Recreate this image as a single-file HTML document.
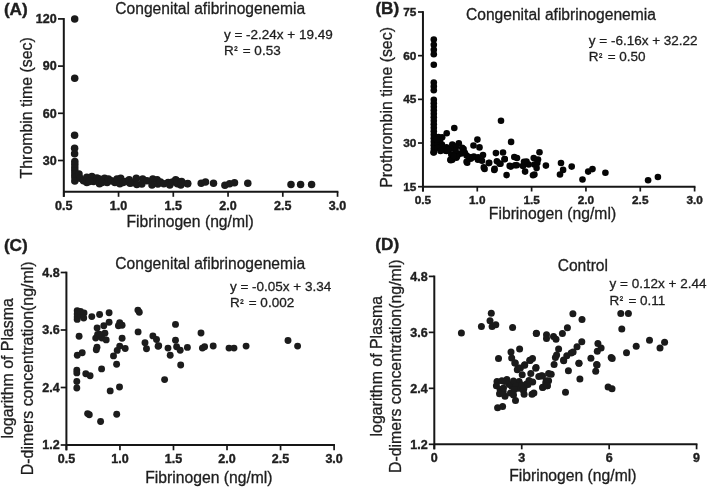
<!DOCTYPE html>
<html><head><meta charset="utf-8"><style>
html,body{margin:0;padding:0;background:#fff;}
body{width:709px;height:488px;overflow:hidden;}
svg{display:block;font-family:"Liberation Sans", sans-serif;filter:grayscale(1) blur(0.3px);}
</style></head><body>
<svg width="709" height="488" viewBox="0 0 709 488">
<rect width="709" height="488" fill="#fff"/>
<line x1="63.80" y1="18.05" x2="63.80" y2="196.80" stroke="#161616" stroke-width="2.0"/>
<line x1="63.80" y1="191.80" x2="338.40" y2="191.80" stroke="#161616" stroke-width="2.0"/>
<line x1="58.00" y1="18.90" x2="63.80" y2="18.90" stroke="#161616" stroke-width="1.7"/>
<text x="56.70" y="23.21" font-size="12.5" font-weight="bold" text-anchor="end" fill="#1e1e1e" stroke="#1e1e1e" stroke-width="0.4">120</text>
<line x1="58.00" y1="66.10" x2="63.80" y2="66.10" stroke="#161616" stroke-width="1.7"/>
<text x="56.70" y="70.41" font-size="12.5" font-weight="bold" text-anchor="end" fill="#1e1e1e" stroke="#1e1e1e" stroke-width="0.4">90</text>
<line x1="58.00" y1="113.30" x2="63.80" y2="113.30" stroke="#161616" stroke-width="1.7"/>
<text x="56.70" y="117.61" font-size="12.5" font-weight="bold" text-anchor="end" fill="#1e1e1e" stroke="#1e1e1e" stroke-width="0.4">60</text>
<line x1="58.00" y1="160.50" x2="63.80" y2="160.50" stroke="#161616" stroke-width="1.7"/>
<text x="56.70" y="164.81" font-size="12.5" font-weight="bold" text-anchor="end" fill="#1e1e1e" stroke="#1e1e1e" stroke-width="0.4">30</text>
<line x1="63.80" y1="191.80" x2="63.80" y2="196.80" stroke="#161616" stroke-width="1.7"/>
<text x="63.80" y="209.60" font-size="12.5" font-weight="bold" text-anchor="middle" fill="#1e1e1e" stroke="#1e1e1e" stroke-width="0.4">0.5</text>
<line x1="118.55" y1="191.80" x2="118.55" y2="196.80" stroke="#161616" stroke-width="1.7"/>
<text x="118.55" y="209.60" font-size="12.5" font-weight="bold" text-anchor="middle" fill="#1e1e1e" stroke="#1e1e1e" stroke-width="0.4">1.0</text>
<line x1="173.30" y1="191.80" x2="173.30" y2="196.80" stroke="#161616" stroke-width="1.7"/>
<text x="173.30" y="209.60" font-size="12.5" font-weight="bold" text-anchor="middle" fill="#1e1e1e" stroke="#1e1e1e" stroke-width="0.4">1.5</text>
<line x1="228.05" y1="191.80" x2="228.05" y2="196.80" stroke="#161616" stroke-width="1.7"/>
<text x="228.05" y="209.60" font-size="12.5" font-weight="bold" text-anchor="middle" fill="#1e1e1e" stroke="#1e1e1e" stroke-width="0.4">2.0</text>
<line x1="282.80" y1="191.80" x2="282.80" y2="196.80" stroke="#161616" stroke-width="1.7"/>
<text x="282.80" y="209.60" font-size="12.5" font-weight="bold" text-anchor="middle" fill="#1e1e1e" stroke="#1e1e1e" stroke-width="0.4">2.5</text>
<line x1="337.55" y1="191.80" x2="337.55" y2="196.80" stroke="#161616" stroke-width="1.7"/>
<text x="337.55" y="209.60" font-size="12.5" font-weight="bold" text-anchor="middle" fill="#1e1e1e" stroke="#1e1e1e" stroke-width="0.4">3.0</text>
<text x="3.90" y="14.50" font-size="17.2" font-weight="bold" text-anchor="start" fill="#1e1e1e" stroke="#1e1e1e" stroke-width="0.4">(A)</text>
<text x="115.30" y="13.70" font-size="15.6" text-anchor="start" fill="#1e1e1e" stroke="#1e1e1e" stroke-width="0.3">Congenital afibrinogenemia</text>
<text x="223.90" y="38.50" font-size="13.5" text-anchor="start" fill="#1e1e1e" stroke="#1e1e1e" stroke-width="0.3">y = -2.24x + 19.49</text>
<text x="223.90" y="54.60" font-size="13.5" text-anchor="start" fill="#1e1e1e" stroke="#1e1e1e" stroke-width="0.3">R<tspan font-size="10" dx="0.5" dy="-1.4">²</tspan><tspan dx="1.5" dy="1.4"> = 0.53</tspan></text>
<text x="190.10" y="227.10" font-size="15.7" text-anchor="middle" fill="#1e1e1e" stroke="#1e1e1e" stroke-width="0.3">Fibrinogen (ng/ml)</text>
<text x="32.50" y="107.80" font-size="15.9" text-anchor="middle" transform="rotate(-90 32.5 107.8)" fill="#1e1e1e" stroke="#1e1e1e" stroke-width="0.3">Thrombin time (sec)</text>
<line x1="422.95" y1="11.15" x2="422.95" y2="191.50" stroke="#161616" stroke-width="2.0"/>
<line x1="422.95" y1="186.70" x2="695.45" y2="186.70" stroke="#161616" stroke-width="2.0"/>
<line x1="418.00" y1="12.00" x2="422.95" y2="12.00" stroke="#161616" stroke-width="1.7"/>
<text x="416.40" y="16.07" font-size="11.8" font-weight="bold" text-anchor="end" fill="#1e1e1e" stroke="#1e1e1e" stroke-width="0.4">75</text>
<line x1="418.00" y1="55.67" x2="422.95" y2="55.67" stroke="#161616" stroke-width="1.7"/>
<text x="416.40" y="59.75" font-size="11.8" font-weight="bold" text-anchor="end" fill="#1e1e1e" stroke="#1e1e1e" stroke-width="0.4">60</text>
<line x1="418.00" y1="99.35" x2="422.95" y2="99.35" stroke="#161616" stroke-width="1.7"/>
<text x="416.40" y="103.42" font-size="11.8" font-weight="bold" text-anchor="end" fill="#1e1e1e" stroke="#1e1e1e" stroke-width="0.4">45</text>
<line x1="418.00" y1="143.02" x2="422.95" y2="143.02" stroke="#161616" stroke-width="1.7"/>
<text x="416.40" y="147.10" font-size="11.8" font-weight="bold" text-anchor="end" fill="#1e1e1e" stroke="#1e1e1e" stroke-width="0.4">30</text>
<line x1="418.00" y1="186.70" x2="422.95" y2="186.70" stroke="#161616" stroke-width="1.7"/>
<text x="416.40" y="190.77" font-size="11.8" font-weight="bold" text-anchor="end" fill="#1e1e1e" stroke="#1e1e1e" stroke-width="0.4">15</text>
<line x1="422.95" y1="186.70" x2="422.95" y2="191.50" stroke="#161616" stroke-width="1.7"/>
<text x="422.95" y="203.50" font-size="11.8" font-weight="bold" text-anchor="middle" fill="#1e1e1e" stroke="#1e1e1e" stroke-width="0.4">0.5</text>
<line x1="477.28" y1="186.70" x2="477.28" y2="191.50" stroke="#161616" stroke-width="1.7"/>
<text x="477.28" y="203.50" font-size="11.8" font-weight="bold" text-anchor="middle" fill="#1e1e1e" stroke="#1e1e1e" stroke-width="0.4">1.0</text>
<line x1="531.61" y1="186.70" x2="531.61" y2="191.50" stroke="#161616" stroke-width="1.7"/>
<text x="531.61" y="203.50" font-size="11.8" font-weight="bold" text-anchor="middle" fill="#1e1e1e" stroke="#1e1e1e" stroke-width="0.4">1.5</text>
<line x1="585.94" y1="186.70" x2="585.94" y2="191.50" stroke="#161616" stroke-width="1.7"/>
<text x="585.94" y="203.50" font-size="11.8" font-weight="bold" text-anchor="middle" fill="#1e1e1e" stroke="#1e1e1e" stroke-width="0.4">2.0</text>
<line x1="640.27" y1="186.70" x2="640.27" y2="191.50" stroke="#161616" stroke-width="1.7"/>
<text x="640.27" y="203.50" font-size="11.8" font-weight="bold" text-anchor="middle" fill="#1e1e1e" stroke="#1e1e1e" stroke-width="0.4">2.5</text>
<line x1="694.60" y1="186.70" x2="694.60" y2="191.50" stroke="#161616" stroke-width="1.7"/>
<text x="694.60" y="203.50" font-size="11.8" font-weight="bold" text-anchor="middle" fill="#1e1e1e" stroke="#1e1e1e" stroke-width="0.4">3.0</text>
<text x="375.40" y="14.20" font-size="17.2" font-weight="bold" text-anchor="start" fill="#1e1e1e" stroke="#1e1e1e" stroke-width="0.4">(B)</text>
<text x="466.00" y="19.60" font-size="15.6" text-anchor="start" fill="#1e1e1e" stroke="#1e1e1e" stroke-width="0.3">Congenital afibrinogenemia</text>
<text x="588.80" y="45.20" font-size="13.5" text-anchor="start" fill="#1e1e1e" stroke="#1e1e1e" stroke-width="0.3">y = -6.16x + 32.22</text>
<text x="588.80" y="60.90" font-size="13.5" text-anchor="start" fill="#1e1e1e" stroke="#1e1e1e" stroke-width="0.3">R<tspan font-size="10" dx="0.5" dy="-1.4">²</tspan><tspan dx="1.5" dy="1.4"> = 0.50</tspan></text>
<text x="552.50" y="219.40" font-size="15.7" text-anchor="middle" fill="#1e1e1e" stroke="#1e1e1e" stroke-width="0.3">Fibrinogen (ng/ml)</text>
<text x="391.70" y="107.40" font-size="15.9" text-anchor="middle" transform="rotate(-90 391.7 107.4)" fill="#1e1e1e" stroke="#1e1e1e" stroke-width="0.3">Prothrombin time (sec)</text>
<line x1="66.40" y1="271.65" x2="66.40" y2="450.30" stroke="#161616" stroke-width="2.0"/>
<line x1="66.40" y1="445.00" x2="334.95" y2="445.00" stroke="#161616" stroke-width="2.0"/>
<line x1="60.70" y1="272.50" x2="66.40" y2="272.50" stroke="#161616" stroke-width="1.7"/>
<text x="59.60" y="276.81" font-size="12.5" font-weight="bold" text-anchor="end" fill="#1e1e1e" stroke="#1e1e1e" stroke-width="0.4">4.8</text>
<line x1="60.70" y1="330.00" x2="66.40" y2="330.00" stroke="#161616" stroke-width="1.7"/>
<text x="59.60" y="334.31" font-size="12.5" font-weight="bold" text-anchor="end" fill="#1e1e1e" stroke="#1e1e1e" stroke-width="0.4">3.6</text>
<line x1="60.70" y1="387.50" x2="66.40" y2="387.50" stroke="#161616" stroke-width="1.7"/>
<text x="59.60" y="391.81" font-size="12.5" font-weight="bold" text-anchor="end" fill="#1e1e1e" stroke="#1e1e1e" stroke-width="0.4">2.4</text>
<line x1="60.70" y1="445.00" x2="66.40" y2="445.00" stroke="#161616" stroke-width="1.7"/>
<text x="59.60" y="449.31" font-size="12.5" font-weight="bold" text-anchor="end" fill="#1e1e1e" stroke="#1e1e1e" stroke-width="0.4">1.2</text>
<line x1="66.40" y1="445.00" x2="66.40" y2="450.30" stroke="#161616" stroke-width="1.7"/>
<text x="66.40" y="463.30" font-size="12.5" font-weight="bold" text-anchor="middle" fill="#1e1e1e" stroke="#1e1e1e" stroke-width="0.4">0.5</text>
<line x1="119.94" y1="445.00" x2="119.94" y2="450.30" stroke="#161616" stroke-width="1.7"/>
<text x="119.94" y="463.30" font-size="12.5" font-weight="bold" text-anchor="middle" fill="#1e1e1e" stroke="#1e1e1e" stroke-width="0.4">1.0</text>
<line x1="173.48" y1="445.00" x2="173.48" y2="450.30" stroke="#161616" stroke-width="1.7"/>
<text x="173.48" y="463.30" font-size="12.5" font-weight="bold" text-anchor="middle" fill="#1e1e1e" stroke="#1e1e1e" stroke-width="0.4">1.5</text>
<line x1="227.02" y1="445.00" x2="227.02" y2="450.30" stroke="#161616" stroke-width="1.7"/>
<text x="227.02" y="463.30" font-size="12.5" font-weight="bold" text-anchor="middle" fill="#1e1e1e" stroke="#1e1e1e" stroke-width="0.4">2.0</text>
<line x1="280.56" y1="445.00" x2="280.56" y2="450.30" stroke="#161616" stroke-width="1.7"/>
<text x="280.56" y="463.30" font-size="12.5" font-weight="bold" text-anchor="middle" fill="#1e1e1e" stroke="#1e1e1e" stroke-width="0.4">2.5</text>
<line x1="334.10" y1="445.00" x2="334.10" y2="450.30" stroke="#161616" stroke-width="1.7"/>
<text x="334.10" y="463.30" font-size="12.5" font-weight="bold" text-anchor="middle" fill="#1e1e1e" stroke="#1e1e1e" stroke-width="0.4">3.0</text>
<text x="3.90" y="250.50" font-size="17.2" font-weight="bold" text-anchor="start" fill="#1e1e1e" stroke="#1e1e1e" stroke-width="0.4">(C)</text>
<text x="115.30" y="269.30" font-size="15.6" text-anchor="start" fill="#1e1e1e" stroke="#1e1e1e" stroke-width="0.3">Congenital afibrinogenemia</text>
<text x="229.90" y="290.90" font-size="13.5" text-anchor="start" fill="#1e1e1e" stroke="#1e1e1e" stroke-width="0.3">y = -0.05x + 3.34</text>
<text x="229.90" y="307.10" font-size="13.5" text-anchor="start" fill="#1e1e1e" stroke="#1e1e1e" stroke-width="0.3">R<tspan font-size="10" dx="0.5" dy="-1.4">²</tspan><tspan dx="1.5" dy="1.4"> = 0.002</tspan></text>
<text x="208.90" y="482.80" font-size="15.7" text-anchor="middle" fill="#1e1e1e" stroke="#1e1e1e" stroke-width="0.3">Fibrinogen (ng/ml)</text>
<text x="13.00" y="368.35" font-size="15.9" text-anchor="middle" transform="rotate(-90 13.0 368.35)" fill="#1e1e1e" stroke="#1e1e1e" stroke-width="0.3">logarithm of Plasma</text>
<text x="32.70" y="368.35" font-size="15.9" text-anchor="middle" transform="rotate(-90 32.7 368.35)" fill="#1e1e1e" stroke="#1e1e1e" stroke-width="0.3">D-dimers concentration(ng/ml)</text>
<line x1="434.30" y1="275.55" x2="434.30" y2="449.30" stroke="#161616" stroke-width="2.0"/>
<line x1="434.30" y1="444.30" x2="697.44" y2="444.30" stroke="#161616" stroke-width="2.0"/>
<line x1="428.80" y1="276.40" x2="434.30" y2="276.40" stroke="#161616" stroke-width="1.7"/>
<text x="427.60" y="280.71" font-size="12.5" font-weight="bold" text-anchor="end" fill="#1e1e1e" stroke="#1e1e1e" stroke-width="0.4">4.8</text>
<line x1="428.80" y1="332.37" x2="434.30" y2="332.37" stroke="#161616" stroke-width="1.7"/>
<text x="427.60" y="336.68" font-size="12.5" font-weight="bold" text-anchor="end" fill="#1e1e1e" stroke="#1e1e1e" stroke-width="0.4">3.6</text>
<line x1="428.80" y1="388.34" x2="434.30" y2="388.34" stroke="#161616" stroke-width="1.7"/>
<text x="427.60" y="392.65" font-size="12.5" font-weight="bold" text-anchor="end" fill="#1e1e1e" stroke="#1e1e1e" stroke-width="0.4">2.4</text>
<line x1="428.80" y1="444.31" x2="434.30" y2="444.31" stroke="#161616" stroke-width="1.7"/>
<text x="427.60" y="448.62" font-size="12.5" font-weight="bold" text-anchor="end" fill="#1e1e1e" stroke="#1e1e1e" stroke-width="0.4">1.2</text>
<line x1="434.30" y1="444.30" x2="434.30" y2="449.30" stroke="#161616" stroke-width="1.7"/>
<text x="434.30" y="462.00" font-size="12.5" font-weight="bold" text-anchor="middle" fill="#1e1e1e" stroke="#1e1e1e" stroke-width="0.4">0</text>
<line x1="521.73" y1="444.30" x2="521.73" y2="449.30" stroke="#161616" stroke-width="1.7"/>
<text x="521.73" y="462.00" font-size="12.5" font-weight="bold" text-anchor="middle" fill="#1e1e1e" stroke="#1e1e1e" stroke-width="0.4">3</text>
<line x1="609.16" y1="444.30" x2="609.16" y2="449.30" stroke="#161616" stroke-width="1.7"/>
<text x="609.16" y="462.00" font-size="12.5" font-weight="bold" text-anchor="middle" fill="#1e1e1e" stroke="#1e1e1e" stroke-width="0.4">6</text>
<line x1="696.59" y1="444.30" x2="696.59" y2="449.30" stroke="#161616" stroke-width="1.7"/>
<text x="696.59" y="462.00" font-size="12.5" font-weight="bold" text-anchor="middle" fill="#1e1e1e" stroke="#1e1e1e" stroke-width="0.4">9</text>
<text x="375.30" y="250.00" font-size="17.2" font-weight="bold" text-anchor="start" fill="#1e1e1e" stroke="#1e1e1e" stroke-width="0.4">(D)</text>
<text x="557.70" y="270.70" font-size="15.6" text-anchor="start" fill="#1e1e1e" stroke="#1e1e1e" stroke-width="0.3">Control</text>
<text x="609.60" y="288.20" font-size="13.5" text-anchor="start" fill="#1e1e1e" stroke="#1e1e1e" stroke-width="0.3">y = 0.12x + 2.44</text>
<text x="609.60" y="304.70" font-size="13.5" text-anchor="start" fill="#1e1e1e" stroke="#1e1e1e" stroke-width="0.3">R<tspan font-size="10" dx="0.5" dy="-1.4">²</tspan><tspan dx="1.5" dy="1.4"> = 0.11</tspan></text>
<text x="572.80" y="480.50" font-size="15.7" text-anchor="middle" fill="#1e1e1e" stroke="#1e1e1e" stroke-width="0.3">Fibrinogen (ng/ml)</text>
<text x="381.80" y="366.20" font-size="15.9" text-anchor="middle" transform="rotate(-90 381.8 366.2)" fill="#1e1e1e" stroke="#1e1e1e" stroke-width="0.3">logarithm of Plasma</text>
<text x="400.70" y="366.20" font-size="15.9" text-anchor="middle" transform="rotate(-90 400.7 366.2)" fill="#1e1e1e" stroke="#1e1e1e" stroke-width="0.3">D-dimers concentration(ng/ml)</text>
<g fill="#1a1a1a">
<circle cx="74.7" cy="19.0" r="3.75"/>
<circle cx="74.7" cy="78.2" r="3.75"/>
<circle cx="74.6" cy="135.2" r="3.75"/>
<circle cx="74.6" cy="148.3" r="3.75"/>
<circle cx="74.6" cy="153.8" r="3.75"/>
<circle cx="74.8" cy="161.5" r="3.75"/>
<circle cx="74.8" cy="164.6" r="3.75"/>
<circle cx="74.8" cy="167.7" r="3.75"/>
<circle cx="74.8" cy="170.8" r="3.75"/>
<circle cx="74.8" cy="173.9" r="3.75"/>
<circle cx="74.8" cy="177.0" r="3.75"/>
<circle cx="74.8" cy="180.9" r="3.75"/>
<circle cx="79.0" cy="174.0" r="3.75"/>
<circle cx="80.1" cy="178.2" r="3.75"/>
<circle cx="83.5" cy="180.7" r="3.75"/>
<circle cx="86.8" cy="182.4" r="3.75"/>
<circle cx="86.8" cy="177.3" r="3.75"/>
<circle cx="91.9" cy="176.5" r="3.75"/>
<circle cx="93.6" cy="181.5" r="3.75"/>
<circle cx="89.5" cy="181.5" r="3.75"/>
<circle cx="97.0" cy="178.0" r="3.75"/>
<circle cx="99.5" cy="179.0" r="3.75"/>
<circle cx="99.5" cy="183.7" r="3.75"/>
<circle cx="104.6" cy="178.2" r="3.75"/>
<circle cx="102.0" cy="182.5" r="3.75"/>
<circle cx="107.1" cy="182.4" r="3.75"/>
<circle cx="108.5" cy="179.0" r="3.75"/>
<circle cx="111.4" cy="180.7" r="3.75"/>
<circle cx="114.8" cy="182.4" r="3.75"/>
<circle cx="117.0" cy="179.0" r="3.75"/>
<circle cx="120.7" cy="178.2" r="3.75"/>
<circle cx="119.8" cy="183.7" r="3.75"/>
<circle cx="123.0" cy="182.5" r="3.75"/>
<circle cx="125.8" cy="181.5" r="3.75"/>
<circle cx="130.0" cy="183.2" r="3.75"/>
<circle cx="129.2" cy="179.8" r="3.75"/>
<circle cx="131.7" cy="182.8" r="3.75"/>
<circle cx="136.3" cy="178.2" r="3.75"/>
<circle cx="136.8" cy="184.5" r="3.75"/>
<circle cx="142.7" cy="179.0" r="3.75"/>
<circle cx="141.8" cy="184.1" r="3.75"/>
<circle cx="146.9" cy="180.7" r="3.75"/>
<circle cx="152.8" cy="179.0" r="3.75"/>
<circle cx="152.0" cy="184.9" r="3.75"/>
<circle cx="157.1" cy="179.8" r="3.75"/>
<circle cx="157.9" cy="184.1" r="3.75"/>
<circle cx="160.5" cy="182.0" r="3.75"/>
<circle cx="163.8" cy="183.7" r="3.75"/>
<circle cx="168.1" cy="182.4" r="3.75"/>
<circle cx="169.8" cy="184.9" r="3.75"/>
<circle cx="172.5" cy="182.0" r="3.75"/>
<circle cx="175.7" cy="179.8" r="3.75"/>
<circle cx="177.4" cy="183.7" r="3.75"/>
<circle cx="180.8" cy="184.9" r="3.75"/>
<circle cx="181.6" cy="181.5" r="3.75"/>
<circle cx="187.5" cy="183.7" r="3.75"/>
<circle cx="177.0" cy="181.0" r="3.75"/>
<circle cx="181.0" cy="183.0" r="3.75"/>
<circle cx="187.7" cy="183.6" r="3.75"/>
<circle cx="201.2" cy="183.2" r="3.75"/>
<circle cx="205.5" cy="181.9" r="3.75"/>
<circle cx="213.5" cy="183.2" r="3.75"/>
<circle cx="224.9" cy="185.3" r="3.75"/>
<circle cx="229.6" cy="183.8" r="3.75"/>
<circle cx="234.5" cy="182.8" r="3.75"/>
<circle cx="247.8" cy="183.2" r="3.75"/>
<circle cx="291.0" cy="184.4" r="3.75"/>
<circle cx="300.6" cy="184.4" r="3.75"/>
<circle cx="311.6" cy="184.4" r="3.75"/>
</g>
<g fill="#050505">
<circle cx="433.8" cy="39.5" r="3.3"/>
<circle cx="433.8" cy="44.8" r="3.3"/>
<circle cx="433.8" cy="49.7" r="3.3"/>
<circle cx="433.8" cy="54.2" r="3.3"/>
<circle cx="433.8" cy="64.8" r="3.3"/>
<circle cx="433.8" cy="82.6" r="3.3"/>
<circle cx="433.8" cy="86.4" r="3.3"/>
<circle cx="433.8" cy="90.2" r="3.3"/>
<circle cx="433.8" cy="99.8" r="3.3"/>
<circle cx="433.8" cy="103.3" r="3.3"/>
<circle cx="433.8" cy="106.8" r="3.3"/>
<circle cx="433.8" cy="110.3" r="3.3"/>
<circle cx="433.8" cy="113.8" r="3.3"/>
<circle cx="433.8" cy="117.3" r="3.3"/>
<circle cx="433.8" cy="120.8" r="3.3"/>
<circle cx="433.8" cy="124.3" r="3.3"/>
<circle cx="433.8" cy="127.8" r="3.3"/>
<circle cx="433.8" cy="131.3" r="3.3"/>
<circle cx="433.8" cy="134.8" r="3.3"/>
<circle cx="433.8" cy="138.3" r="3.3"/>
<circle cx="433.8" cy="141.8" r="3.3"/>
<circle cx="433.8" cy="145.3" r="3.3"/>
<circle cx="433.8" cy="148.8" r="3.3"/>
<circle cx="433.8" cy="152.3" r="3.3"/>
<circle cx="454.3" cy="128.0" r="3.3"/>
<circle cx="446.7" cy="133.3" r="3.3"/>
<circle cx="442.2" cy="137.2" r="3.3"/>
<circle cx="501.0" cy="120.8" r="3.3"/>
<circle cx="511.1" cy="141.9" r="3.3"/>
<circle cx="477.4" cy="139.6" r="3.3"/>
<circle cx="473.5" cy="145.5" r="3.3"/>
<circle cx="479.5" cy="147.4" r="3.3"/>
<circle cx="458.8" cy="143.2" r="3.3"/>
<circle cx="441.0" cy="145.4" r="3.3"/>
<circle cx="445.1" cy="150.0" r="3.3"/>
<circle cx="453.3" cy="145.9" r="3.3"/>
<circle cx="463.6" cy="149.0" r="3.3"/>
<circle cx="451.3" cy="154.6" r="3.3"/>
<circle cx="456.4" cy="153.6" r="3.3"/>
<circle cx="452.3" cy="159.7" r="3.3"/>
<circle cx="456.4" cy="157.7" r="3.3"/>
<circle cx="460.5" cy="153.6" r="3.3"/>
<circle cx="466.6" cy="155.6" r="3.3"/>
<circle cx="467.2" cy="162.8" r="3.3"/>
<circle cx="470.7" cy="158.7" r="3.3"/>
<circle cx="473.8" cy="156.6" r="3.3"/>
<circle cx="477.9" cy="159.7" r="3.3"/>
<circle cx="482.0" cy="160.7" r="3.3"/>
<circle cx="483.0" cy="155.1" r="3.3"/>
<circle cx="489.2" cy="162.8" r="3.3"/>
<circle cx="484.6" cy="168.9" r="3.3"/>
<circle cx="495.9" cy="153.1" r="3.3"/>
<circle cx="503.0" cy="152.5" r="3.3"/>
<circle cx="496.9" cy="161.3" r="3.3"/>
<circle cx="500.5" cy="163.8" r="3.3"/>
<circle cx="504.6" cy="159.2" r="3.3"/>
<circle cx="494.3" cy="170.0" r="3.3"/>
<circle cx="506.6" cy="175.1" r="3.3"/>
<circle cx="509.7" cy="165.9" r="3.3"/>
<circle cx="439.4" cy="141.9" r="3.3"/>
<circle cx="441.9" cy="144.5" r="3.3"/>
<circle cx="446.5" cy="147.3" r="3.3"/>
<circle cx="433.6" cy="152.4" r="3.3"/>
<circle cx="446.5" cy="150.9" r="3.3"/>
<circle cx="452.3" cy="144.5" r="3.3"/>
<circle cx="455.8" cy="147.3" r="3.3"/>
<circle cx="462.2" cy="147.8" r="3.3"/>
<circle cx="464.8" cy="152.9" r="3.3"/>
<circle cx="469.0" cy="157.1" r="3.3"/>
<circle cx="450.4" cy="159.7" r="3.3"/>
<circle cx="457.1" cy="156.3" r="3.3"/>
<circle cx="455.5" cy="150.4" r="3.3"/>
<circle cx="450.4" cy="148.7" r="3.3"/>
<circle cx="445.3" cy="150.4" r="3.3"/>
<circle cx="438.5" cy="137.0" r="3.3"/>
<circle cx="440.0" cy="140.5" r="3.3"/>
<circle cx="438.0" cy="143.5" r="3.3"/>
<circle cx="441.0" cy="147.0" r="3.3"/>
<circle cx="444.0" cy="149.5" r="3.3"/>
<circle cx="448.0" cy="150.0" r="3.3"/>
<circle cx="437.5" cy="148.0" r="3.3"/>
<circle cx="440.5" cy="151.0" r="3.3"/>
<circle cx="437.0" cy="139.5" r="3.3"/>
<circle cx="504.7" cy="159.0" r="3.3"/>
<circle cx="510.8" cy="166.6" r="3.3"/>
<circle cx="515.1" cy="165.2" r="3.3"/>
<circle cx="514.3" cy="157.0" r="3.3"/>
<circle cx="517.0" cy="158.0" r="3.3"/>
<circle cx="523.0" cy="165.9" r="3.3"/>
<circle cx="526.5" cy="161.6" r="3.3"/>
<circle cx="528.7" cy="164.5" r="3.3"/>
<circle cx="525.1" cy="171.6" r="3.3"/>
<circle cx="533.0" cy="175.2" r="3.3"/>
<circle cx="534.4" cy="174.5" r="3.3"/>
<circle cx="533.7" cy="158.0" r="3.3"/>
<circle cx="538.0" cy="159.5" r="3.3"/>
<circle cx="539.5" cy="152.3" r="3.3"/>
<circle cx="534.4" cy="164.5" r="3.3"/>
<circle cx="537.3" cy="163.0" r="3.3"/>
<circle cx="536.6" cy="168.1" r="3.3"/>
<circle cx="545.9" cy="165.6" r="3.3"/>
<circle cx="561.0" cy="163.0" r="3.3"/>
<circle cx="563.1" cy="169.9" r="3.3"/>
<circle cx="560.0" cy="174.5" r="3.3"/>
<circle cx="571.7" cy="166.6" r="3.3"/>
<circle cx="582.5" cy="179.5" r="3.3"/>
<circle cx="588.2" cy="171.6" r="3.3"/>
<circle cx="592.5" cy="169.1" r="3.3"/>
<circle cx="605.4" cy="172.7" r="3.3"/>
<circle cx="648.1" cy="180.2" r="3.3"/>
<circle cx="657.9" cy="177.0" r="3.3"/>
<circle cx="488.8" cy="163.1" r="3.3"/>
<circle cx="483.8" cy="167.4" r="3.3"/>
<circle cx="494.6" cy="168.9" r="3.3"/>
<circle cx="478.1" cy="157.4" r="3.3"/>
<circle cx="472.3" cy="157.4" r="3.3"/>
<circle cx="466.6" cy="161.7" r="3.3"/>
<circle cx="450.8" cy="160.3" r="3.3"/>
<circle cx="453.7" cy="156.0" r="3.3"/>
<circle cx="462.3" cy="153.1" r="3.3"/>
<circle cx="499.6" cy="163.8" r="3.3"/>
<circle cx="516.8" cy="165.3" r="3.3"/>
<circle cx="524.0" cy="161.7" r="3.3"/>
</g>
<g fill="#1c1c1c">
<circle cx="77.2" cy="310.8" r="3.45"/>
<circle cx="77.2" cy="314.0" r="3.45"/>
<circle cx="77.2" cy="317.0" r="3.45"/>
<circle cx="77.2" cy="319.4" r="3.45"/>
<circle cx="80.5" cy="315.0" r="3.45"/>
<circle cx="80.5" cy="311.5" r="3.45"/>
<circle cx="84.0" cy="313.0" r="3.45"/>
<circle cx="83.7" cy="318.0" r="3.45"/>
<circle cx="91.8" cy="316.6" r="3.45"/>
<circle cx="99.6" cy="314.5" r="3.45"/>
<circle cx="109.1" cy="312.7" r="3.45"/>
<circle cx="109.1" cy="322.2" r="3.45"/>
<circle cx="103.8" cy="325.7" r="3.45"/>
<circle cx="97.1" cy="327.9" r="3.45"/>
<circle cx="137.9" cy="310.1" r="3.45"/>
<circle cx="139.3" cy="312.2" r="3.45"/>
<circle cx="119.7" cy="322.7" r="3.45"/>
<circle cx="118.4" cy="325.8" r="3.45"/>
<circle cx="122.1" cy="325.2" r="3.45"/>
<circle cx="138.1" cy="331.9" r="3.45"/>
<circle cx="79.1" cy="336.2" r="3.45"/>
<circle cx="97.6" cy="334.4" r="3.45"/>
<circle cx="95.7" cy="338.1" r="3.45"/>
<circle cx="104.9" cy="333.2" r="3.45"/>
<circle cx="101.9" cy="338.1" r="3.45"/>
<circle cx="106.2" cy="339.9" r="3.45"/>
<circle cx="99.4" cy="334.3" r="3.45"/>
<circle cx="122.1" cy="338.3" r="3.45"/>
<circle cx="97.0" cy="347.3" r="3.45"/>
<circle cx="96.3" cy="349.8" r="3.45"/>
<circle cx="119.7" cy="346.1" r="3.45"/>
<circle cx="117.2" cy="350.4" r="3.45"/>
<circle cx="125.2" cy="348.5" r="3.45"/>
<circle cx="82.2" cy="352.8" r="3.45"/>
<circle cx="77.3" cy="355.3" r="3.45"/>
<circle cx="113.5" cy="355.9" r="3.45"/>
<circle cx="145.0" cy="342.8" r="3.45"/>
<circle cx="146.5" cy="348.8" r="3.45"/>
<circle cx="175.5" cy="324.4" r="3.45"/>
<circle cx="201.0" cy="333.0" r="3.45"/>
<circle cx="152.9" cy="335.9" r="3.45"/>
<circle cx="156.5" cy="339.5" r="3.45"/>
<circle cx="158.7" cy="345.7" r="3.45"/>
<circle cx="168.0" cy="348.1" r="3.45"/>
<circle cx="170.2" cy="355.3" r="3.45"/>
<circle cx="175.5" cy="340.2" r="3.45"/>
<circle cx="176.6" cy="346.7" r="3.45"/>
<circle cx="180.2" cy="350.3" r="3.45"/>
<circle cx="187.4" cy="347.4" r="3.45"/>
<circle cx="202.4" cy="348.1" r="3.45"/>
<circle cx="204.6" cy="346.7" r="3.45"/>
<circle cx="213.2" cy="346.0" r="3.45"/>
<circle cx="229.0" cy="348.1" r="3.45"/>
<circle cx="234.0" cy="348.1" r="3.45"/>
<circle cx="246.1" cy="346.1" r="3.45"/>
<circle cx="288.0" cy="340.5" r="3.45"/>
<circle cx="297.6" cy="346.1" r="3.45"/>
<circle cx="158.1" cy="346.2" r="3.45"/>
<circle cx="180.7" cy="365.0" r="3.45"/>
<circle cx="164.6" cy="379.6" r="3.45"/>
<circle cx="116.6" cy="364.3" r="3.45"/>
<circle cx="101.6" cy="368.9" r="3.45"/>
<circle cx="76.8" cy="370.1" r="3.45"/>
<circle cx="76.8" cy="372.9" r="3.45"/>
<circle cx="85.8" cy="373.7" r="3.45"/>
<circle cx="90.1" cy="375.8" r="3.45"/>
<circle cx="76.8" cy="381.5" r="3.45"/>
<circle cx="76.8" cy="388.0" r="3.45"/>
<circle cx="110.2" cy="390.9" r="3.45"/>
<circle cx="119.5" cy="387.0" r="3.45"/>
<circle cx="87.6" cy="413.6" r="3.45"/>
<circle cx="89.3" cy="414.8" r="3.45"/>
<circle cx="100.6" cy="421.5" r="3.45"/>
<circle cx="116.7" cy="414.2" r="3.45"/>
</g>
<g fill="#1a1a1a">
<circle cx="461.4" cy="333.0" r="3.5"/>
<circle cx="481.4" cy="326.6" r="3.5"/>
<circle cx="491.3" cy="313.3" r="3.5"/>
<circle cx="490.0" cy="320.7" r="3.5"/>
<circle cx="492.1" cy="326.6" r="3.5"/>
<circle cx="495.8" cy="324.8" r="3.5"/>
<circle cx="512.6" cy="327.5" r="3.5"/>
<circle cx="536.4" cy="333.3" r="3.5"/>
<circle cx="519.6" cy="349.1" r="3.5"/>
<circle cx="511.0" cy="351.9" r="3.5"/>
<circle cx="511.7" cy="358.1" r="3.5"/>
<circle cx="498.5" cy="358.5" r="3.5"/>
<circle cx="515.3" cy="363.1" r="3.5"/>
<circle cx="518.2" cy="368.1" r="3.5"/>
<circle cx="524.6" cy="365.3" r="3.5"/>
<circle cx="529.7" cy="360.3" r="3.5"/>
<circle cx="532.5" cy="358.5" r="3.5"/>
<circle cx="536.1" cy="367.4" r="3.5"/>
<circle cx="514.8" cy="363.0" r="3.5"/>
<circle cx="524.7" cy="364.8" r="3.5"/>
<circle cx="530.2" cy="360.5" r="3.5"/>
<circle cx="517.3" cy="369.7" r="3.5"/>
<circle cx="520.4" cy="367.9" r="3.5"/>
<circle cx="522.2" cy="374.7" r="3.5"/>
<circle cx="530.8" cy="373.4" r="3.5"/>
<circle cx="535.7" cy="368.3" r="3.5"/>
<circle cx="538.8" cy="376.5" r="3.5"/>
<circle cx="542.5" cy="375.9" r="3.5"/>
<circle cx="548.6" cy="373.4" r="3.5"/>
<circle cx="546.2" cy="380.8" r="3.5"/>
<circle cx="542.5" cy="387.6" r="3.5"/>
<circle cx="547.4" cy="385.7" r="3.5"/>
<circle cx="497.0" cy="381.4" r="3.5"/>
<circle cx="501.9" cy="380.8" r="3.5"/>
<circle cx="506.9" cy="379.6" r="3.5"/>
<circle cx="496.4" cy="385.7" r="3.5"/>
<circle cx="500.1" cy="389.4" r="3.5"/>
<circle cx="499.5" cy="393.7" r="3.5"/>
<circle cx="505.0" cy="396.2" r="3.5"/>
<circle cx="510.5" cy="393.1" r="3.5"/>
<circle cx="511.8" cy="386.3" r="3.5"/>
<circle cx="519.1" cy="381.4" r="3.5"/>
<circle cx="519.1" cy="388.2" r="3.5"/>
<circle cx="523.4" cy="390.6" r="3.5"/>
<circle cx="524.1" cy="394.3" r="3.5"/>
<circle cx="526.5" cy="383.9" r="3.5"/>
<circle cx="532.7" cy="382.0" r="3.5"/>
<circle cx="532.0" cy="394.3" r="3.5"/>
<circle cx="533.9" cy="393.1" r="3.5"/>
<circle cx="515.5" cy="400.5" r="3.5"/>
<circle cx="497.6" cy="407.8" r="3.5"/>
<circle cx="502.6" cy="406.6" r="3.5"/>
<circle cx="509.3" cy="384.5" r="3.5"/>
<circle cx="503.2" cy="391.9" r="3.5"/>
<circle cx="505.0" cy="381.5" r="3.5"/>
<circle cx="503.5" cy="388.0" r="3.5"/>
<circle cx="513.5" cy="381.0" r="3.5"/>
<circle cx="516.0" cy="386.0" r="3.5"/>
<circle cx="514.5" cy="389.5" r="3.5"/>
<circle cx="521.5" cy="385.0" r="3.5"/>
<circle cx="524.0" cy="388.0" r="3.5"/>
<circle cx="528.0" cy="384.5" r="3.5"/>
<circle cx="529.0" cy="380.5" r="3.5"/>
<circle cx="513.5" cy="395.0" r="3.5"/>
<circle cx="572.9" cy="313.8" r="3.5"/>
<circle cx="582.0" cy="319.5" r="3.5"/>
<circle cx="620.8" cy="313.6" r="3.5"/>
<circle cx="628.4" cy="313.6" r="3.5"/>
<circle cx="621.8" cy="329.0" r="3.5"/>
<circle cx="536.3" cy="333.5" r="3.5"/>
<circle cx="546.5" cy="334.7" r="3.5"/>
<circle cx="546.5" cy="338.6" r="3.5"/>
<circle cx="553.5" cy="336.6" r="3.5"/>
<circle cx="556.0" cy="339.2" r="3.5"/>
<circle cx="562.4" cy="333.5" r="3.5"/>
<circle cx="567.4" cy="327.8" r="3.5"/>
<circle cx="558.6" cy="349.1" r="3.5"/>
<circle cx="556.6" cy="355.0" r="3.5"/>
<circle cx="555.4" cy="357.6" r="3.5"/>
<circle cx="554.1" cy="364.6" r="3.5"/>
<circle cx="563.6" cy="360.1" r="3.5"/>
<circle cx="566.8" cy="355.7" r="3.5"/>
<circle cx="571.2" cy="353.1" r="3.5"/>
<circle cx="573.1" cy="351.9" r="3.5"/>
<circle cx="577.0" cy="346.8" r="3.5"/>
<circle cx="581.8" cy="341.7" r="3.5"/>
<circle cx="578.9" cy="363.3" r="3.5"/>
<circle cx="590.9" cy="358.2" r="3.5"/>
<circle cx="597.9" cy="343.6" r="3.5"/>
<circle cx="601.1" cy="348.1" r="3.5"/>
<circle cx="597.3" cy="351.2" r="3.5"/>
<circle cx="596.6" cy="364.6" r="3.5"/>
<circle cx="611.2" cy="357.6" r="3.5"/>
<circle cx="612.2" cy="358.5" r="3.5"/>
<circle cx="649.5" cy="340.2" r="3.5"/>
<circle cx="664.6" cy="342.3" r="3.5"/>
<circle cx="660.0" cy="348.1" r="3.5"/>
<circle cx="636.2" cy="346.2" r="3.5"/>
<circle cx="626.5" cy="352.8" r="3.5"/>
<circle cx="563.7" cy="360.7" r="3.5"/>
<circle cx="579.0" cy="363.2" r="3.5"/>
<circle cx="597.1" cy="365.0" r="3.5"/>
<circle cx="595.7" cy="371.2" r="3.5"/>
<circle cx="568.4" cy="370.8" r="3.5"/>
<circle cx="579.9" cy="378.9" r="3.5"/>
<circle cx="551.2" cy="374.3" r="3.5"/>
<circle cx="541.4" cy="375.8" r="3.5"/>
<circle cx="548.6" cy="380.8" r="3.5"/>
<circle cx="545.7" cy="383.0" r="3.5"/>
<circle cx="542.9" cy="387.3" r="3.5"/>
<circle cx="547.2" cy="385.8" r="3.5"/>
<circle cx="565.5" cy="392.3" r="3.5"/>
<circle cx="608.1" cy="387.0" r="3.5"/>
<circle cx="612.0" cy="388.7" r="3.5"/>
</g>
</svg>
</body></html>
